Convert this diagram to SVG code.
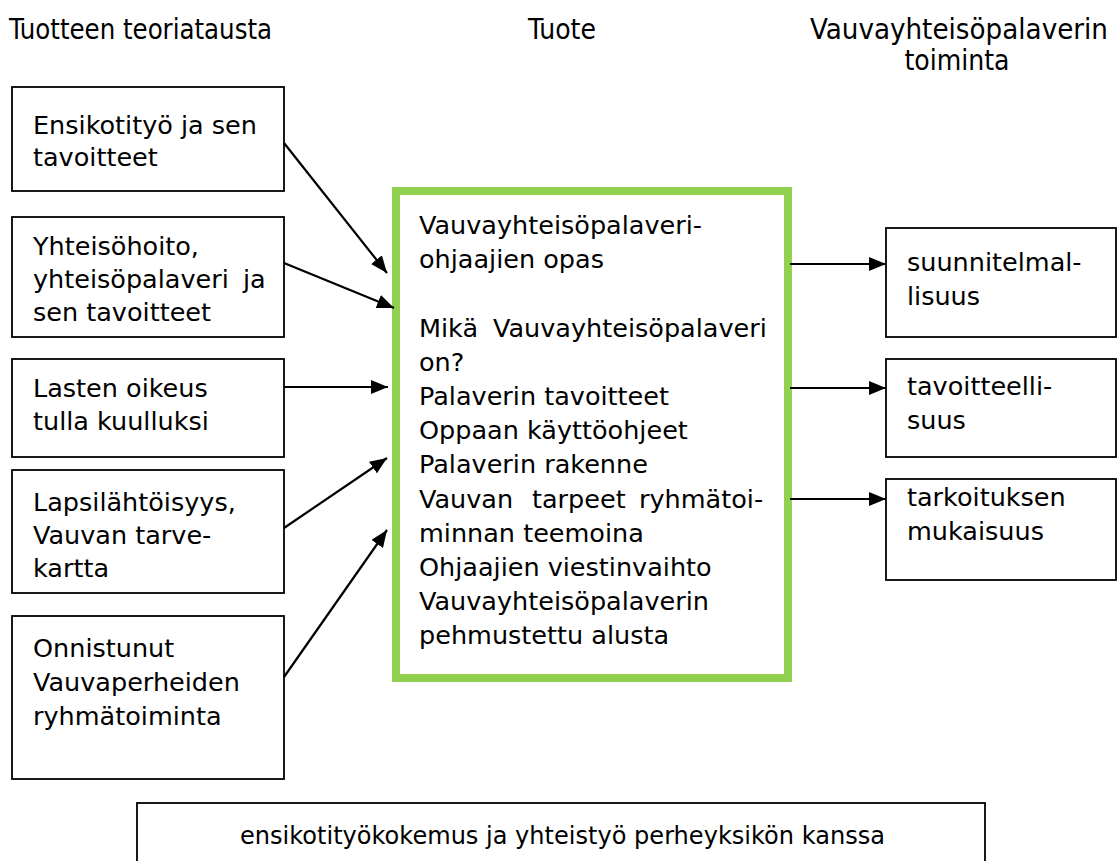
<svg xmlns="http://www.w3.org/2000/svg" width="1118" height="861" viewBox="0 0 1118 861">
<style>
.hdr{font-family:"DejaVu Sans Condensed","DejaVu Sans",sans-serif;font-stretch:condensed;font-size:28px;fill:#000}
.t{font-family:"DejaVu Sans",Verdana,sans-serif;font-size:25.5px;fill:#000}
.box{fill:#fff;stroke:#000;stroke-width:1.8}
.green{fill:#fff;stroke:#92D050;stroke-width:8}
.con{stroke:#000;stroke-width:2.2;fill:none;marker-end:url(#ah)}
</style>
<defs>
<marker id="ah" markerUnits="userSpaceOnUse" markerWidth="18" markerHeight="14" refX="17" refY="7" orient="auto">
<path d="M0,0 L17,7 L0,14 z" fill="#000"/>
</marker>
</defs>
<rect width="1118" height="861" fill="#fff"/>
<g id="headers">
<text class="hdr" x="9" y="39" textLength="263" lengthAdjust="spacingAndGlyphs">Tuotteen teoriatausta</text>
<text class="hdr" x="562" y="39" text-anchor="middle">Tuote</text>
<text class="hdr" x="810" y="39" textLength="298" lengthAdjust="spacingAndGlyphs">Vauvayhteisöpalaverin</text>
<text class="hdr" x="957" y="70" text-anchor="middle">toiminta</text>
</g>
<g id="n1">
<rect class="box" x="12" y="87" width="272" height="104"/>
<text class="t" x="33"><tspan x="33" y="134">Ensikotityö ja sen</tspan><tspan x="33" y="166">tavoitteet</tspan></text>
</g>
<g id="n2">
<rect class="box" x="12" y="217" width="272" height="120"/>
<text class="t"><tspan x="33" y="255">Yhteisöhoito,</tspan><tspan x="33" y="288">yhteisöpalaveri</tspan><tspan x="243" y="288">ja</tspan><tspan x="33" y="321">sen tavoitteet</tspan></text>
</g>
<g id="n3">
<rect class="box" x="12" y="359" width="272" height="98"/>
<text class="t"><tspan x="33" y="397">Lasten oikeus</tspan><tspan x="33" y="430">tulla kuulluksi</tspan></text>
</g>
<g id="n4">
<rect class="box" x="12" y="470" width="272" height="123"/>
<text class="t"><tspan x="33" y="511">Lapsilähtöisyys,</tspan><tspan x="33" y="544">Vauvan tarve-</tspan><tspan x="33" y="577">kartta</tspan></text>
</g>
<g id="n5">
<rect class="box" x="12" y="616" width="272" height="163"/>
<text class="t"><tspan x="33" y="657">Onnistunut</tspan><tspan x="33" y="691">Vauvaperheiden</tspan><tspan x="33" y="725">ryhmätoiminta</tspan></text>
</g>
<g id="center">
<rect class="green" x="396" y="191" width="392" height="487"/>
<text class="t">
<tspan x="419" y="234">Vauvayhteisöpalaveri-</tspan>
<tspan x="419" y="268">ohjaajien opas</tspan>
<tspan x="419" y="337">Mikä</tspan><tspan x="493" y="337">Vauvayhteisöpalaveri</tspan>
<tspan x="419" y="371">on?</tspan>
<tspan x="419" y="405">Palaverin tavoitteet</tspan>
<tspan x="419" y="439">Oppaan käyttöohjeet</tspan>
<tspan x="419" y="473">Palaverin rakenne</tspan>
<tspan x="419" y="508">Vauvan</tspan><tspan x="532" y="508">tarpeet</tspan><tspan x="639" y="508">ryhmätoi-</tspan>
<tspan x="419" y="542">minnan teemoina</tspan>
<tspan x="419" y="576">Ohjaajien viestinvaihto</tspan>
<tspan x="419" y="610">Vauvayhteisöpalaverin</tspan>
<tspan x="419" y="644">pehmustettu alusta</tspan>
</text>
</g>
<g id="r1">
<rect class="box" x="886" y="228" width="230" height="109"/>
<text class="t"><tspan x="907" y="271">suunnitelmal-</tspan><tspan x="907" y="305">lisuus</tspan></text>
</g>
<g id="r2">
<rect class="box" x="886" y="359" width="230" height="98"/>
<text class="t"><tspan x="907" y="395">tavoitteelli-</tspan><tspan x="907" y="429">suus</tspan></text>
</g>
<g id="r3">
<rect class="box" x="886" y="479" width="230" height="101"/>
<text class="t"><tspan x="907" y="506">tarkoituksen</tspan><tspan x="907" y="540">mukaisuus</tspan></text>
</g>
<g id="bottom">
<rect class="box" x="137" y="803" width="848" height="80"/>
<text class="t" x="240" y="844" textLength="645" lengthAdjust="spacingAndGlyphs">ensikotityökokemus ja yhteistyö perheyksikön kanssa</text>
</g>
<g id="connectors">
<line class="con" x1="284" y1="143" x2="387" y2="273"/>
<line class="con" x1="284" y1="263" x2="394" y2="308"/>
<line class="con" x1="284" y1="387" x2="388" y2="387"/>
<line class="con" x1="284" y1="528" x2="387" y2="458"/>
<line class="con" x1="284" y1="677" x2="387" y2="530"/>
<line class="con" x1="790" y1="264" x2="886" y2="264"/>
<line class="con" x1="790" y1="388" x2="886" y2="388"/>
<line class="con" x1="790" y1="499" x2="886" y2="499"/>
</g>
</svg>
